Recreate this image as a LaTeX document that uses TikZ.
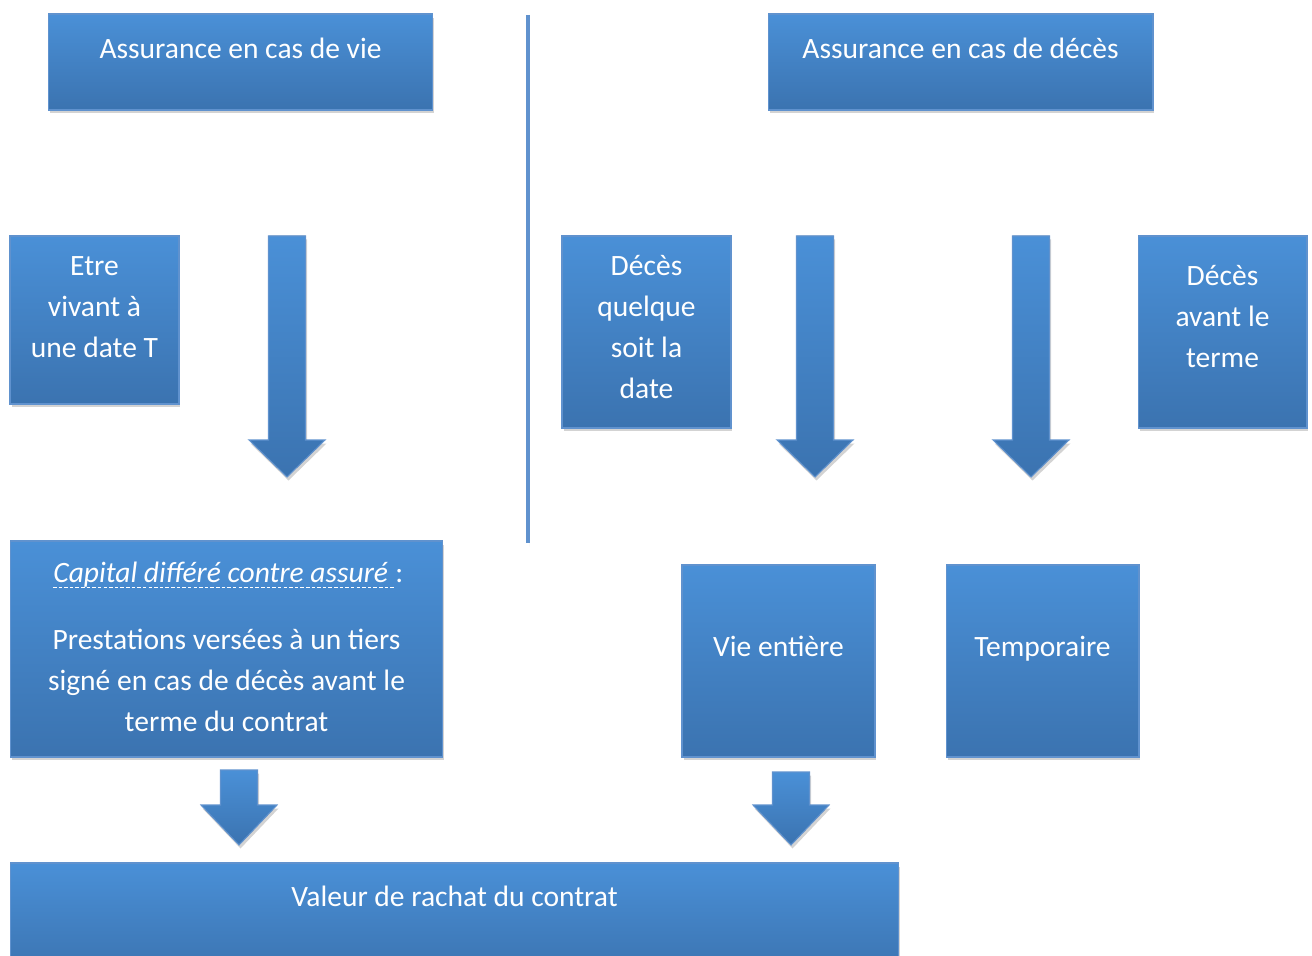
\documentclass[tikz,border=0pt]{standalone}
\usepackage{fontspec}
\setmainfont{Carlito}
\usetikzlibrary{positioning,shadows}

\definecolor{bluetop}{RGB}{74,144,215}
\definecolor{bluebot}{RGB}{59,115,176}
\definecolor{blueline}{RGB}{96,146,206}

\tikzset{
  blushadow/.style={drop shadow={opacity=0.35,shadow xshift=0.03cm,shadow yshift=-0.07cm}},
  blubox/.style={rectangle,draw=blueline,line width=0.6pt,top color=bluetop,bottom color=bluebot,blushadow,inner sep=0pt},
  blutxt/.style={text=white,align=center,font=\fontsize{16.8}{23.3}\selectfont,inner sep=0pt,anchor=base},
  bluarrow/.style={draw=blueline,line width=0.6pt,top color=bluetop,bottom color=bluebot,blushadow},
  sepline/.style={blueline,line width=0.08cm,blushadow}
}

\begin{document}
\begin{tikzpicture}[x=0.02cm,y=-0.02cm]
\useasboundingbox (0,0) rectangle (1312,956);

% top boxes
\node[blubox,minimum width=7.7cm,minimum height=1.92cm] (vie) at (240.5,62) {};
\node[blubox,minimum width=7.7cm,minimum height=1.92cm] (deces) at (960.5,62) {};
\node[below=0.90cm of vie.north,blutxt] (vietxt) {Assurance en cas de vie};
\node[below=0.90cm of deces.north,blutxt] (decestxt) {Assurance en cas de décès};

% separator
\draw[sepline] (528,15) -- (528,543);

% middle boxes (text anchored on its last line)
\node[blubox,minimum width=3.38cm,minimum height=3.36cm] (etre) at (94.5,320) {};
\node[blubox,minimum width=3.38cm,minimum height=3.84cm] (quelque) at (646.5,332) {};
\node[blubox,minimum width=3.38cm,minimum height=3.84cm] (avant) at (1222.5,332) {};
\node[below=2.44cm of etre.north,blutxt] (etretxt) {Etre\\vivant à\\une date T};
\node[below=3.26cm of quelque.north,blutxt] (quelquetxt) {Décès\\quelque\\soit la\\date};
\node[below=2.64cm of avant.north,blutxt] (avanttxt) {Décès\\avant le\\terme};

% block arrows
\foreach \x/\ya/\yb/\yc in {287/236/440/477, 815/236/440/477, 1031/236/440/477, 239/770/805/845, 791/772/805/845}
  \filldraw[bluarrow] (\x-18.5,\ya) -- (\x+18.5,\ya) -- (\x+18.5,\yb) -- (\x+38,\yb)
    -- (\x,\yc) -- (\x-38,\yb) -- (\x-18.5,\yb) -- cycle;

% lower boxes
\node[blubox,minimum width=8.66cm,minimum height=4.32cm] (capital) at (226.5,649) {};
\node[blubox,minimum width=3.86cm,minimum height=3.84cm] (entiere) at (778.5,661) {};
\node[blubox,minimum width=3.86cm,minimum height=3.84cm] (temp) at (1042.5,661) {};
\node[blutxt,anchor=base west] (captitle) at (53,582) {\textit{Capital différé contre assuré}\ };
\node[blutxt,anchor=base west] (capcolon) at (captitle.base east) {:};
\draw[white,line width=0.5pt,dash pattern=on 2pt off 1.2pt]
  ([yshift=-0.1cm]captitle.base west) -- ([yshift=-0.1cm]captitle.base east);
\node[below=3.82cm of capital.north,blutxt] (captxt) {Prestations versées à un tiers\\signé en cas de décès avant le\\terme du contrat};
\node[below=1.84cm of entiere.north,blutxt] (entieretxt) {Vie entière};
\node[below=1.84cm of temp.north,blutxt] (temptxt) {Temporaire};

% bottom box
\node[blubox,minimum width=17.78cm,minimum height=2.24cm] (rachat) at (454.5,919) {};
\node[below=0.88cm of rachat.north,blutxt] (rachattxt) {Valeur de rachat du contrat};
\end{tikzpicture}
\end{document}
